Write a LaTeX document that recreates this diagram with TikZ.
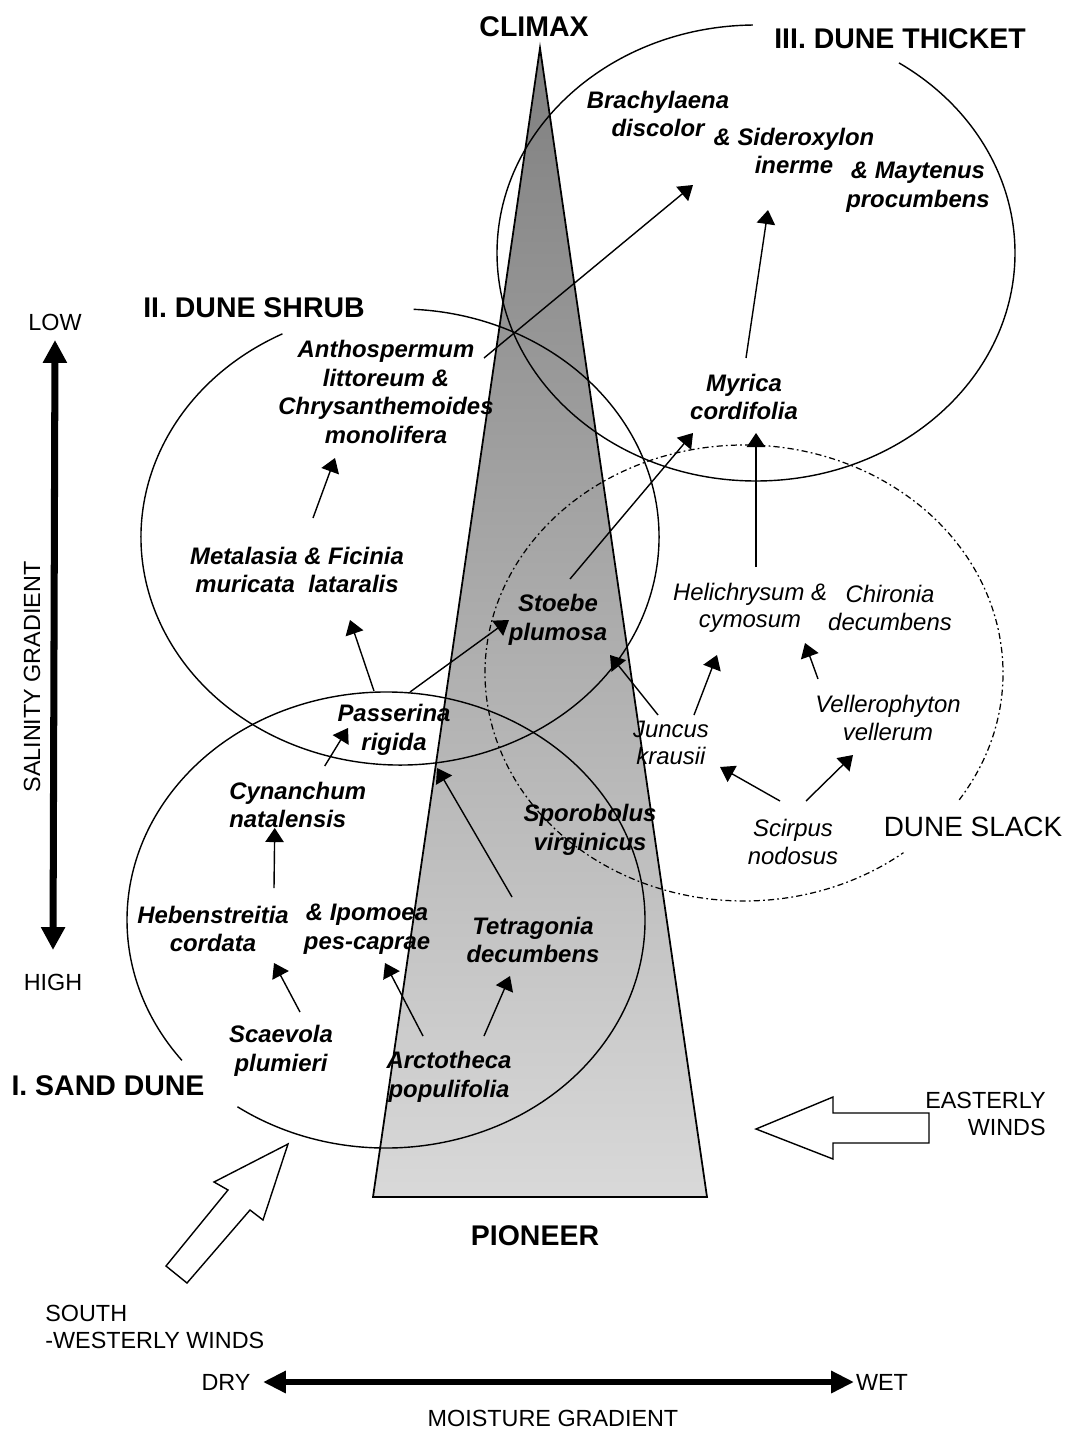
\documentclass[tikz,border=0pt]{standalone}
\usepackage{fontspec}
\setmainfont{Liberation Sans}
\usetikzlibrary{arrows.meta}
\begin{document}
\begin{tikzpicture}[x=0.02cm,y=0.02cm,
  ring/.style={line width=0.8pt},
  slackring/.style={line width=0.7pt, dash pattern=on 3.5pt off 1.8pt on 1pt off 1.8pt},
  arr/.style={line width=0.8pt, -{Triangle[length=8pt,width=10.5pt]}},
  bigarr/.style={line width=4pt, {Triangle[length=13pt,width=13pt]}-{Triangle[length=13pt,width=13pt]}},
  midarr/.style={line width=3.4pt, {Triangle[length=13pt,width=12pt]}-{Triangle[length=13pt,width=12pt]}},
  windarrow/.style={line width=0.8pt, fill=white},
  boldsp/.style={font=\fontsize{13.6}{16.2}\selectfont\bfseries\itshape, align=center, inner sep=0pt},
  italsp/.style={font=\fontsize{13.6}{15.6}\selectfont\itshape, align=center, inner sep=0pt},
  hdlabel/.style={font=\fontsize{16.2}{19}\selectfont\bfseries, inner sep=0pt},
  plainlabel/.style={font=\fontsize{13.3}{15.6}\selectfont, inner sep=0pt},
]
\useasboundingbox (0,0) rectangle (1066,-1429);

% succession triangle
\draw[line width=1pt, top color=black!50, bottom color=black!15] (540,-48) -- (707,-1197) -- (373,-1197) -- cycle;

% community ellipses
\draw[ring] (386,-920) ++(235:259 and 228) arc[start angle=235, end angle=578, x radius=259, y radius=228];
\draw[ring] (400,-537) ++(117:259 and 228) arc[start angle=117, end angle=447, x radius=259, y radius=228];
\draw[ring] (756,-253) ++(90.7:259 and 228) arc[start angle=90.7, end angle=416.5, x radius=259, y radius=228];
\draw[slackring] (744,-673) ++(-33.8:259 and 228) arc[start angle=-33.8, end angle=308, x radius=259, y radius=228];

% headings
\node[hdlabel] (climax) at (534,-27) {CLIMAX};
\node[hdlabel] (thicket) at (900,-39) {III. DUNE THICKET};
\node[hdlabel] (shrub) at (254,-308) {II. DUNE SHRUB};
\node[hdlabel] (sand) at (108,-1086) {I. SAND DUNE};
\node[hdlabel] (pioneer) at (535,-1236) {PIONEER};
\node[font=\fontsize{15.9}{18}\selectfont, inner sep=0pt] (slack) at (973,-827) {DUNE SLACK};

% gradients and winds
\node[plainlabel] (low) at (55,-322) {LOW};
\node[plainlabel] (high) at (53,-982) {HIGH};
\node[plainlabel, rotate=90] (salin) at (32,-677) {SALINITY GRADIENT};
\node[plainlabel] (dry) at (226,-1382) {DRY};
\node[plainlabel] (wet) at (882,-1382) {WET};
\node[plainlabel] (moist) at (553,-1418) {MOISTURE GRADIENT};
\node[plainlabel, align=right, anchor=east] (east) at (1046,-1114) {EASTERLY\\WINDS};
\node[plainlabel, align=left, anchor=west] (sw) at (45,-1327) {SOUTH\\-WESTERLY WINDS};

\draw[bigarr] ([shift={(0,-18)}]low.center) -- ([shift={(0,32)}]high.center);
\draw[midarr] ([shift={(37,0)}]dry.center) -- ([shift={(-28,0)}]wet.center);

\draw[windarrow] (756,-1129) -- (833,-1097) -- (833,-1113) -- (929,-1113) -- (929,-1143) -- (833,-1143) -- (833,-1159) -- cycle;
\draw[windarrow] (288,-1144) -- (263,-1220) -- (250,-1210) -- (187,-1283) -- (166,-1266) -- (228,-1190) -- (214,-1182) -- cycle;

% species
\node[boldsp] (brach) at (658,-114) {Brachylaena\\discolor};
\node[boldsp] (sider) at (794,-151) {\& Sideroxylon\\inerme};
\node[boldsp] (mayt) at (918,-187) {\& Maytenus\\procumbens};
\node[boldsp] (myrica) at (744,-397) {Myrica\\cordifolia};
\node[boldsp] (antho) at (386,-392) {Anthospermum\\littoreum \&\\Chrysanthemoides\\monolifera};
\node[boldsp] (meta) at (297,-570) {Metalasia \& Ficinia\\muricata\ \ lataralis};
\node[boldsp] (stoebe) at (558,-620) {Stoebe\\plumosa};
\node[boldsp] (passer) at (394,-730) {Passerina\\rigida};
\node[boldsp, align=left, anchor=west] (cynan) at (229,-805) {Cynanchum\\natalensis};
\node[boldsp] (sporo) at (590,-830) {Sporobolus\\virginicus};
\node[boldsp] (heb) at (213,-929) {Hebenstreitia\\cordata};
\node[boldsp] (ipo) at (367,-929) {\& Ipomoea\\pes-caprae};
\node[boldsp] (tetra) at (533,-940) {Tetragonia\\decumbens};
\node[boldsp] (scae) at (281,-1051) {Scaevola\\plumieri};
\node[boldsp] (arcto) at (449,-1077) {Arctotheca\\populifolia};

\node[italsp] (helic) at (750,-608) {Helichrysum \&\\cymosum};
\node[italsp] (chiro) at (890,-608) {Chironia\\decumbens};
\node[italsp] (vell) at (888,-718) {Vellerophyton\\vellerum};
\node[italsp] (juncus) at (671,-743) {Juncus\\krausii};
\node[italsp] (scirpus) at (793,-842) {Scirpus\\nodosus};

% succession arrows
\draw[arr] ([shift={(98,34)}]antho.center) -- ([shift={(35,-71)}]brach.center);
\draw[arr] ([shift={(2,39)}]myrica.center) -- ([shift={(-26,-59)}]sider.center);
\draw[arr] ([shift={(16,52)}]meta.center) -- ([shift={(-51,-66)}]antho.center);
\draw[arr] ([shift={(-20,39)}]passer.center) -- ([shift={(53,-50)}]meta.center);
\draw[arr] ([shift={(16,38)}]passer.center) -- ([shift={(-49,0)}]stoebe.center);
\draw[arr] ([shift={(12,41)}]stoebe.center) -- ([shift={(-51,-36)}]myrica.center);
\draw[arr] ([shift={(6,41)}]helic.center) -- ([shift={(12,-36)}]myrica.center);
\draw[arr] ([shift={(23,28)}]juncus.center) -- ([shift={(-33,-47)}]helic.center);
\draw[arr] ([shift={(-70,39)}]vell.center) -- ([shift={(-85,-35)}]chiro.center);
\draw[arr] ([shift={(-13,28)}]juncus.center) -- ([shift={(52,-35)}]stoebe.center);
\draw[arr] ([shift={(-13,41)}]scirpus.center) -- ([shift={(49,-24)}]juncus.center);
\draw[arr] ([shift={(13,41)}]scirpus.center) -- ([shift={(-35,-37)}]vell.center);
\draw[arr] ([shift={(27,39)}]cynan.center) -- ([shift={(-46,2)}]passer.center);
\draw[arr] ([shift={(61,41)}]heb.center) -- ([shift={(-23,-23)}]cynan.center);
\draw[arr] ([shift={(19,39)}]scae.center) -- ([shift={(61,-34)}]heb.center);
\draw[arr] ([shift={(-26,41)}]arcto.center) -- ([shift={(18,-34)}]ipo.center);
\draw[arr] ([shift={(35,41)}]arcto.center) -- ([shift={(-23,-36)}]tetra.center);
\draw[arr] ([shift={(-21,43)}]tetra.center) -- ([shift={(43,-38)}]passer.center);
\end{tikzpicture}
\end{document}
